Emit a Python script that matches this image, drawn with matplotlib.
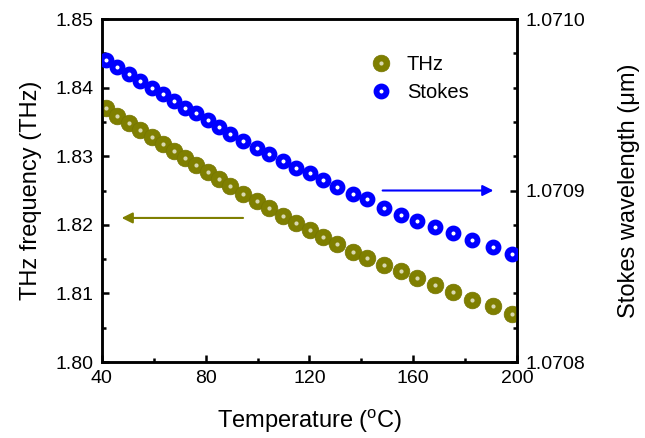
import matplotlib
matplotlib.use("Agg")
import matplotlib.pyplot as plt
from matplotlib import ticker
from matplotlib.legend_handler import HandlerTuple

plt.rcParams['font.family'] = ['Liberation Sans', 'DejaVu Sans']
plt.rcParams['mathtext.fontset'] = 'custom'
plt.rcParams['mathtext.rm'] = 'Liberation Sans'

temperature = [41.5, 46.0, 50.4, 54.8, 59.2, 63.6, 67.8, 72.0, 76.2, 80.7,
               85.1, 89.5, 94.4, 99.6, 104.5, 109.7, 114.8, 120.2, 125.3, 130.7,
               136.6, 142.3, 148.7, 155.2, 161.5, 168.4, 175.2, 182.5, 190.6, 197.9]
thz_freq = [1.8370, 1.8359, 1.8348, 1.8338, 1.8328, 1.8318, 1.8308, 1.8297, 1.8287, 1.8277,
            1.8267, 1.8257, 1.8245, 1.8234, 1.8224, 1.8213, 1.8203, 1.8192, 1.8182, 1.8172,
            1.8161, 1.8151, 1.8141, 1.8133, 1.8123, 1.8112, 1.8102, 1.8091, 1.8082, 1.8070]
stokes_wl = [1.070976, 1.070972, 1.070968, 1.070964, 1.070960, 1.070956, 1.070952, 1.070948,
             1.070945, 1.070941, 1.070937, 1.070933, 1.070929, 1.070925, 1.070921, 1.070917,
             1.070913, 1.070910, 1.070906, 1.070902, 1.070898, 1.070895, 1.070890, 1.070886,
             1.070882, 1.070879, 1.070875, 1.070871, 1.070867, 1.070863]

x_ticks = [40, 80, 120, 160, 200]
left_ticks = [1.80, 1.81, 1.82, 1.83, 1.84, 1.85]
right_ticks = [1.0708, 1.0709, 1.0710]

OLIVE = '#7f7f00'
BLUE = '#0000ff'

fig = plt.figure(figsize=(6.45, 4.38), dpi=100)
ax = fig.add_axes([0.158, 0.1735, 0.6436, 0.7831])
ax2 = ax.twinx()

l1, = ax.plot(temperature, thz_freq, 'o', ms=12, mfc=OLIVE, mec='#757500', mew=0.5,
              linestyle='none', zorder=3)
l1h, = ax.plot(temperature, thz_freq, 'o', ms=3.0, mfc='#d8d8b0', mec='none',
               linestyle='none', zorder=4)
l2, = ax2.plot(temperature, stokes_wl, 'o', ms=7.2, mfc='white', mec=BLUE, mew=4.2,
               linestyle='none', zorder=3)

ax.set_xlim(40, 200)
ax.set_ylim(1.80, 1.85)
ax2.set_ylim(1.0708, 1.0710)

ax.xaxis.set_major_locator(ticker.FixedLocator(x_ticks))
ax.xaxis.set_minor_locator(ticker.MultipleLocator(20))
ax.yaxis.set_major_locator(ticker.FixedLocator(left_ticks))
ax.yaxis.set_minor_locator(ticker.MultipleLocator(0.005))
ax.yaxis.set_major_formatter(ticker.FormatStrFormatter('%.2f'))
ax2.yaxis.set_major_locator(ticker.FixedLocator(right_ticks))
ax2.yaxis.set_minor_locator(ticker.FixedLocator(
    [1.0708 + 0.00002 * i for i in range(11)]))
ax2.yaxis.set_major_formatter(ticker.FormatStrFormatter('%.4f'))

for a in (ax, ax2):
    for s in a.spines.values():
        s.set_linewidth(1.8)
ax.tick_params(axis='both', which='major', direction='in', length=5, width=1.8,
               labelsize=14, pad=6)
ax.tick_params(axis='both', which='minor', direction='in', length=3, width=1.8)
ax.tick_params(axis='y', right=False)
ax2.tick_params(axis='y', which='major', direction='in', length=5, width=1.8,
                labelsize=14, pad=6)
ax2.tick_params(axis='y', which='minor', direction='in', length=3, width=1.8)

ax.set_xlabel(r'Temperature ($^{\rm o}$C)', fontsize=17, labelpad=14)
ax.set_ylabel('THz frequency (THz)', fontsize=17, labelpad=10)
ax2.set_ylabel('Stokes wavelength (\u03bcm)', fontsize=17, labelpad=24)

ax.annotate('', xy=(47.6, 1.821), xytext=(94.4, 1.821),
            arrowprops=dict(arrowstyle='-|>', color=OLIVE, lw=1.5, mutation_scale=16,
                            shrinkA=0, shrinkB=0))
ax2.annotate('', xy=(190.9, 1.0709), xytext=(148.2, 1.0709),
             arrowprops=dict(arrowstyle='-|>', color=BLUE, lw=1.5, mutation_scale=16,
                             shrinkA=0, shrinkB=0))

leg = ax2.legend([(l1, l1h), l2], ['THz', 'Stokes'],
                 handler_map={tuple: HandlerTuple(ndivide=1, pad=0)},
                 loc='upper left', bbox_to_anchor=(0.628, 0.918), frameon=False,
                 fontsize=14.5, handlelength=1.0, handletextpad=0.8, labelspacing=0.45,
                 borderaxespad=0)

fig.savefig('out.png', dpi=100)
